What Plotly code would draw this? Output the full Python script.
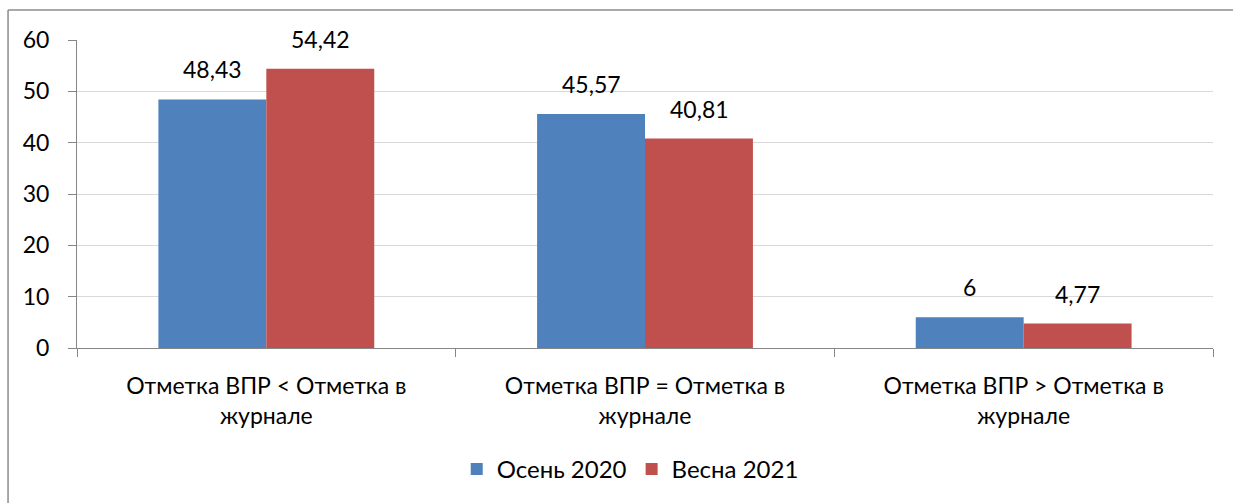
import plotly.graph_objects as go

# categories and series values
categories = [
    "Отметка ВПР &lt; Отметка в<br>журнале",
    "Отметка ВПР = Отметка в<br>журнале",
    "Отметка ВПР > Отметка в<br>журнале",
]
autumn_2020 = [48.43, 45.57, 6]
spring_2021 = [54.42, 40.81, 4.77]
series_names = ["Осень 2020", "Весна 2021"]
y_ticks = [0, 10, 20, 30, 40, 50, 60]


def fmt(v):
    # russian decimal comma
    return ("%g" % v).replace(".", ",")


font_name = "Lato, 'Open Sans', sans-serif"
FS = 23

fig = go.Figure()
annotations = []
# offset of each bar centre from the category centre, in px
for (name, vals, color), dx in zip([(series_names[0], autumn_2020, "#4F81BD"),
                                    (series_names[1], spring_2021, "#C0504D")], [-54, 54]):
    fig.add_trace(go.Bar(
        x=categories,
        y=vals,
        name=name,
        marker=dict(color=color, line=dict(width=0)),
    ))
    # data labels sit well above the bars, like in excel
    for cat, v in zip(categories, vals):
        annotations.append(dict(
            x=cat, y=v, xref="x", yref="y",
            text=fmt(v), showarrow=False,
            xshift=dx, yshift=14, yanchor="bottom",
            font=dict(size=FS, color="black"),
        ))

# chart frame: only top and left edges are inside the picture
frame = dict(color="#8c8c8c", width=1.5)
fig.update_layout(
    width=1233,
    height=503,
    margin=dict(l=77, r=20, t=40, b=154),
    paper_bgcolor="white",
    plot_bgcolor="white",
    font=dict(family=font_name, size=FS, color="black"),
    barmode="group",
    bargap=0.43,
    bargroupgap=0,
    showlegend=True,
    legend=dict(
        orientation="h",
        x=0.487, xanchor="center",
        y=-0.39, yanchor="middle",
        font=dict(size=24),
    ),
    annotations=annotations,
    shapes=[
        dict(type="line", xref="paper", yref="paper",
             x0=-0.0607, x1=1.02, y0=1.097, y1=1.097, line=frame, layer="below"),
        dict(type="line", xref="paper", yref="paper",
             x0=-0.0607, x1=-0.0607, y0=-0.6, y1=1.097, line=frame, layer="below"),
    ],
)

fig.update_yaxes(
    range=[0, 60],
    tickvals=y_ticks,
    showgrid=True,
    gridcolor="#d9d9d9",
    gridwidth=1,
    showline=True,
    linecolor="#868686",
    linewidth=1,
    ticks="outside",
    ticklen=8,
    tickcolor="#868686",
    ticklabelstandoff=14,
    zeroline=False,
    automargin=False,
)
fig.update_xaxes(
    showline=True,
    linecolor="#868686",
    linewidth=1,
    ticks="outside",
    ticklen=8,
    tickcolor="#868686",
    tickson="boundaries",
    ticklabelstandoff=17,
    automargin=False,
)

# drop the default page margin so the figure fills the window exactly
fig.write_html("out.html",
               config={"displayModeBar": False},
               post_script="document.body.style.margin = '0px';")
